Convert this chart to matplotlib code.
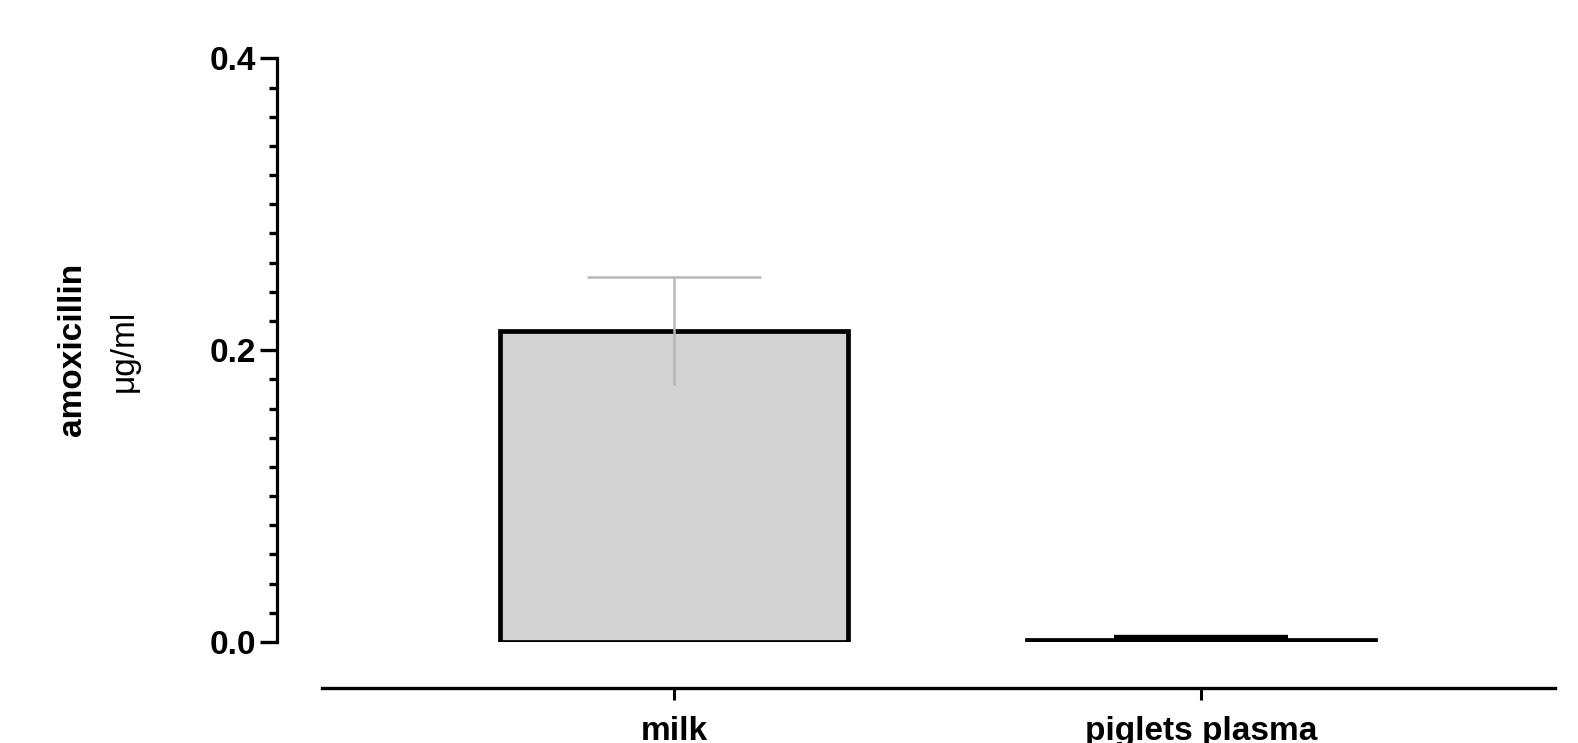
import numpy as np
import matplotlib
matplotlib.use('Agg')
import matplotlib.pyplot as plt
from matplotlib.ticker import MultipleLocator

plt.rcParams['font.family'] = ['Liberation Sans', 'DejaVu Sans']

# data
groups = ['milk', 'piglets plasma']
means = [0.213, 0.0015]
sds = [0.037, 0.0006]
err_colors = ['#b8b8b8', 'black']

W, H = 1578, 743
fig = plt.figure(figsize=(W / 100, H / 100), dpi=100)
ax = fig.add_axes([277 / W, 1 - 642 / H, (1555 - 277) / W, (642 - 58.4) / H])

x = np.arange(len(groups))
ax.bar(x, means, width=0.66, color='#d3d3d3', edgecolor='black', linewidth=3.4, zorder=2)

# error bars: full vertical line, cap only on top
for xi, m, s, c in zip(x, means, sds, err_colors):
    ax.vlines(xi, m - s, m + s, color=c, linewidth=1.8, zorder=3)
    lw = 1.8 if c != 'black' else 6
    ax.hlines(m + s, xi - 0.166, xi + 0.166, color=c, linewidth=lw, zorder=3)

ax.set_xlim(-0.7533, 1.6717)
ax.set_ylim(0, 0.4)

ax.spines['top'].set_visible(False)
ax.spines['right'].set_visible(False)
ax.spines['left'].set_linewidth(2.3)
ax.spines['left'].set_bounds(0, 0.4)
ax.spines['bottom'].set_linewidth(2.4)
ax.spines['bottom'].set_bounds(-0.668, 1.672)
ax.spines['bottom'].set_position(('outward', 33))

ax.yaxis.set_major_locator(MultipleLocator(0.2))
ax.yaxis.set_minor_locator(MultipleLocator(0.02))
ax.set_yticks([0, 0.2, 0.4])
ax.set_yticklabels(['0.0', '0.2', '0.4'], fontsize=24, fontweight='bold')
ax.tick_params(axis='y', which='major', length=12, width=2.4, pad=3)
ax.tick_params(axis='y', which='minor', length=5.8, width=2.4)

ax.set_xticks(x)
ax.set_xticklabels(groups, fontsize=24, fontweight='bold')
ax.tick_params(axis='x', length=8.6, width=2.2, pad=12)

fig.text(72 / W, 1 - 349 / H, 'amoxicillin', rotation=90, fontsize=24,
         fontweight='bold', ha='center', va='center')
fig.text(124 / W, 1 - 351 / H, 'μg/ml', rotation=90, fontsize=24,
         ha='center', va='center')

fig.savefig('out.png', dpi=100)
